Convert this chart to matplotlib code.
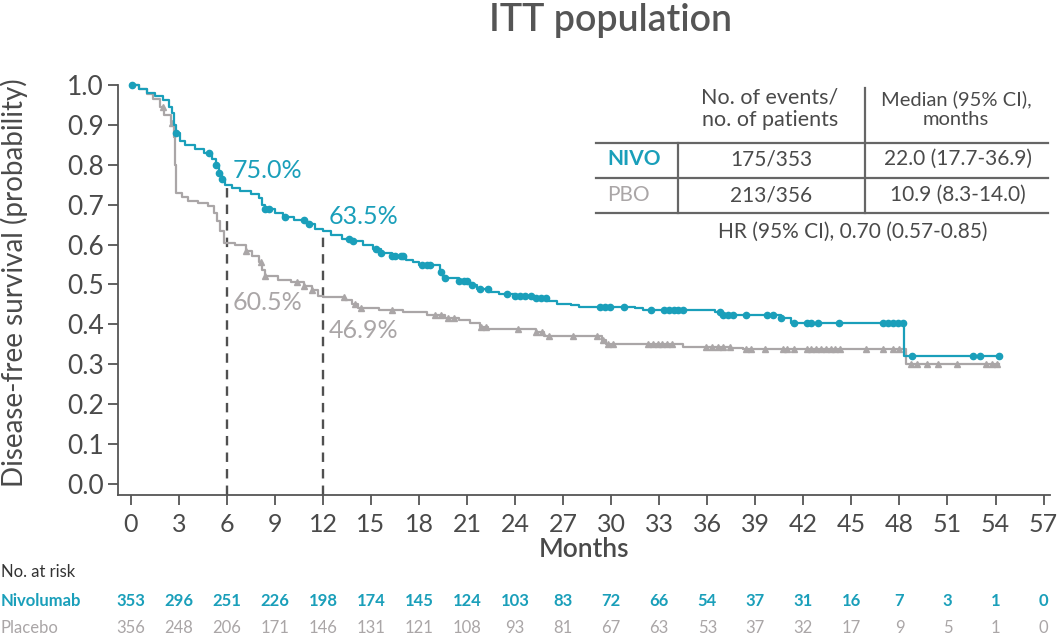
import numpy as np
import matplotlib
matplotlib.use("Agg")
from matplotlib import pyplot as plt
from matplotlib.transforms import blended_transform_factory

plt.rcParams['font.family'] = ['Lato', 'DejaVu Sans']

# colours
teal = '#1a9fba'
grey = '#aaa6a7'
txt = '#4a4a4a'

# Kaplan-Meier steps (months, probability)
nivo_t = [0, 0.5, 1.0, 1.5, 2.0, 2.4, 2.6, 2.7, 2.8, 3.1, 3.4, 4.0, 4.6, 5.1, 5.3, 5.5, 5.7, 5.9,
          6.3, 6.8, 7.5, 8.0, 8.2, 8.4, 9.0, 9.5, 10.2, 11.0, 11.5, 12.0, 12.5, 13.2, 13.9, 14.5,
          15.1, 15.6, 16.3, 17.2, 17.6, 18.0, 19.3, 19.5, 20.5, 21.2, 21.6, 22.4, 23.0, 24.0,
          25.2, 26.0, 26.6, 27.5, 28.0, 31.5, 32.0, 36.5, 37.0, 40.6, 41.2, 48.3]
nivo_s = [1.0, 0.99, 0.98, 0.972, 0.962, 0.946, 0.93, 0.90, 0.879, 0.86, 0.85, 0.84, 0.83, 0.815,
          0.80, 0.78, 0.765, 0.75, 0.742, 0.735, 0.726, 0.716, 0.70, 0.69, 0.68, 0.67, 0.662,
          0.652, 0.64, 0.635, 0.625, 0.615, 0.608, 0.598, 0.588, 0.58, 0.572, 0.562, 0.555,
          0.549, 0.53, 0.516, 0.508, 0.498, 0.488, 0.482, 0.476, 0.472, 0.465, 0.458, 0.452,
          0.448, 0.444, 0.44, 0.436, 0.43, 0.424, 0.415, 0.404, 0.321]
nivo_end = 54.2

pbo_t = [0, 0.5, 1.0, 1.4, 1.8, 2.1, 2.5, 2.7, 2.75, 2.8, 3.2, 3.6, 4.2, 4.8, 5.2, 5.4, 5.6, 5.8,
         6.5, 7.2, 7.6, 8.0, 8.2, 8.4, 9.2, 10.0, 10.8, 11.3, 11.7, 12.0, 13.4, 13.8, 14.2, 15.5,
         17.0, 18.5, 19.6, 20.5, 21.2, 21.8, 22.3, 25.3, 25.8, 29.4, 29.7, 34.5, 37.5, 38.2, 48.4]
pbo_s = [1.0, 0.99, 0.978, 0.965, 0.945, 0.925, 0.905, 0.87, 0.80, 0.73, 0.718, 0.71, 0.705,
         0.696, 0.68, 0.66, 0.635, 0.605, 0.598, 0.585, 0.572, 0.556, 0.535, 0.52, 0.512, 0.506,
         0.497, 0.485, 0.472, 0.469, 0.462, 0.45, 0.44, 0.436, 0.431, 0.424, 0.415, 0.41, 0.403,
         0.393, 0.388, 0.38, 0.37, 0.36, 0.351, 0.344, 0.34, 0.337, 0.30]
pbo_end = 54.2

# censored observations (months)
nivo_cens = [0.1, 2.8, 4.9, 5.3, 5.5, 5.7, 8.4, 8.6, 9.6, 10.8, 11.1, 13.6, 13.9, 15.3, 15.6,
             16.3, 16.5, 16.9, 17.0, 18.2, 18.5, 18.7, 19.4, 19.6, 20.5, 20.8, 21.0, 21.3, 21.8,
             22.3, 23.5, 24.0, 24.3, 24.6, 25.0, 25.3, 25.6, 25.9, 29.3, 29.6, 29.9, 30.8, 32.5,
             33.3, 33.6, 33.9, 34.2, 34.5, 36.8, 37.0, 37.3, 37.6, 38.4, 39.7, 40.1, 40.6, 41.4,
             42.2, 42.5, 42.9, 44.2, 47.0, 47.3, 47.6, 47.9, 48.2, 48.8, 52.6, 53.0, 54.2]
pbo_cens = [2.0, 2.55, 7.2, 8.1, 8.4, 10.4, 10.8, 11.3, 13.3, 14.0, 14.4, 16.3, 19.0, 19.4,
            19.8, 20.2, 21.9, 22.2, 24.2, 25.3, 25.7, 26.1, 27.6, 29.1, 29.5, 29.8, 30.1, 32.3,
            32.6, 32.9, 33.2, 33.5, 33.8, 35.9, 36.3, 36.7, 37.0, 37.4, 38.4, 38.7, 39.6, 40.7,
            41.0, 41.4, 42.2, 42.5, 42.8, 43.1, 43.4, 43.7, 44.0, 44.3, 45.9, 47.0, 47.6, 48.0,
            48.7, 49.1, 49.7, 50.4, 51.6, 53.4, 53.8, 54.1]

landmarks = [6, 12]
nivo_land = ['75.0%', '63.5%']
pbo_land = ['60.5%', '46.9%']

xticks = list(range(0, 58, 3))
nivo_risk = [353, 296, 251, 226, 198, 174, 145, 124, 103, 83, 72, 66, 54, 37, 31, 16, 7, 3, 1, 0]
pbo_risk = [356, 248, 206, 171, 146, 131, 121, 108, 93, 81, 67, 63, 53, 37, 32, 17, 9, 5, 1, 0]

table_rows = [['NIVO', '175/353', '22.0 (17.7-36.9)'],
              ['PBO', '213/356', '10.9 (8.3-14.0)']]


def step_at(t, s, x):
    i = np.searchsorted(np.array(t), np.array(x), side='right') - 1
    return np.array(s)[i]


fig = plt.figure(figsize=(10.61, 6.38), dpi=100)
ax = fig.add_axes([0.1112, 0.2241, 0.8784, 0.6427])

# curves
ax.step(pbo_t + [pbo_end], pbo_s + [pbo_s[-1]], where='post', color=grey, lw=1.6,
        clip_on=False, zorder=3)
ax.step(nivo_t + [nivo_end], nivo_s + [nivo_s[-1]], where='post', color=teal, lw=1.6,
        clip_on=False, zorder=4)
ax.plot(pbo_cens, step_at(pbo_t, pbo_s, pbo_cens), ls='none', marker='^', ms=5,
        color=grey, clip_on=False, zorder=3)
ax.plot(nivo_cens, step_at(nivo_t, nivo_s, nivo_cens), ls='none', marker='o', ms=4.5,
        color=teal, clip_on=False, zorder=4)

# landmark lines
for m, lab_n, lab_p in zip(landmarks, nivo_land, pbo_land):
    top = step_at(nivo_t, nivo_s, [m])[0]
    ax.plot([m, m], [-0.028, top], ls=(0, (4, 3)), color='#505050', lw=1.7, zorder=2,
            clip_on=False)
    ax.text(m + 0.35, top + 0.035, lab_n, color=teal, fontsize=18, va='center', ha='left')
    pv = step_at(pbo_t, pbo_s, [m])[0]
    ax.text(m + 0.35, pv - 0.15 if m == 6 else pv - 0.085, lab_p, color=grey, fontsize=18,
            va='center', ha='left')

ax.set_xlim(-0.8, 57.4)
ax.set_ylim(-0.028, 1.0)
ax.set_xticks(xticks)
ax.set_yticks(np.arange(0, 1.01, 0.1))
ax.set_yticklabels([f'{v:.1f}' for v in np.arange(0, 1.01, 0.1)])
for sp in ['top', 'right']:
    ax.spines[sp].set_visible(False)
for sp in ['left', 'bottom']:
    ax.spines[sp].set_color('#555555')
    ax.spines[sp].set_linewidth(1.3)
ax.tick_params(axis='both', colors='#555555', width=1.3, length=7, labelcolor=txt)
ax.tick_params(axis='y', pad=3, labelsize=19)
ax.tick_params(axis='x', pad=6, labelsize=18)
ax.set_ylabel('Disease-free survival (probability)', fontsize=20, color=txt)
ax.yaxis.set_label_coords(-0.097, 0.517)
ax.set_xlabel('Months', fontsize=19, color=txt, fontweight='semibold', labelpad=1)
fig.suptitle('ITT population', fontsize=27, color='#555555', fontweight='semibold',
             x=0.575, y=0.995)

# summary table (figure pixel coordinates)
def fx(px):
    return px / 1061


def fy(py):
    return 1 - py / 638


lc = '#666666'
for yy in [143, 178, 213]:
    fig.add_artist(plt.Line2D([fx(596), fx(1048)], [fy(yy), fy(yy)], color=lc, lw=1.6))
fig.add_artist(plt.Line2D([fx(865), fx(865)], [fy(88), fy(213)], color=lc, lw=1.6))
fig.add_artist(plt.Line2D([fx(678), fx(678)], [fy(143), fy(213)], color=lc, lw=1.6))
fig.text(fx(770), fy(109), 'No. of events/\nno. of patients', ha='center', va='center',
         fontsize=15.5, color=txt, linespacing=1.15)
fig.text(fx(956), fy(109), 'Median (95% CI),\nmonths', ha='center', va='center',
         fontsize=14.5, color=txt, linespacing=1.2)
for row, yy, col in zip(table_rows, [159, 195], [teal, grey]):
    fig.text(fx(607), fy(yy), row[0], ha='left', va='center', fontsize=15, color=col,
             fontweight='bold' if row[0] == 'NIVO' else 'normal')
    fig.text(fx(771), fy(yy), row[1], ha='center', va='center', fontsize=15, color=txt)
    fig.text(fx(958), fy(yy), row[2], ha='center', va='center', fontsize=15, color=txt)
fig.text(fx(853), fy(232), 'HR (95% CI), 0.70 (0.57-0.85)', ha='center', va='center',
         fontsize=15, color=txt)

# number at risk
tr = blended_transform_factory(ax.transData, fig.transFigure)
fig.text(fx(1), fy(572), 'No. at risk', ha='left', va='center', fontsize=12, color='#333333')
fig.text(fx(1), fy(601), 'Nivolumab', ha='left', va='center', fontsize=12, color=teal,
         fontweight='bold')
fig.text(fx(1), fy(628), 'Placebo', ha='left', va='center', fontsize=12, color=grey)
for xt, n, p in zip(xticks, nivo_risk, pbo_risk):
    ax.text(xt, fy(601), str(n), transform=tr, ha='center', va='center', fontsize=12,
            color=teal, fontweight='bold', clip_on=False)
    ax.text(xt, fy(628), str(p), transform=tr, ha='center', va='center', fontsize=12,
            color=grey, clip_on=False)

fig.savefig('out.png', dpi=100)
